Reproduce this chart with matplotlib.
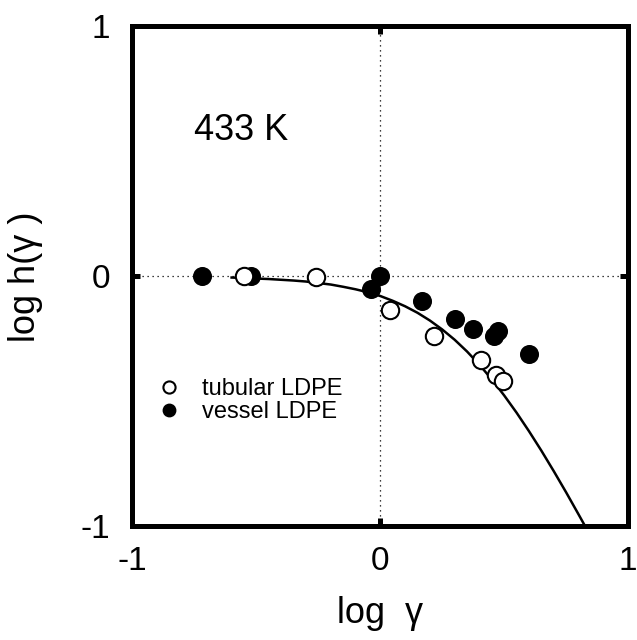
import matplotlib
matplotlib.use("Agg")
from matplotlib import pyplot as plt

plt.rcParams['font.family'] = ['Liberation Sans', 'DejaVu Sans']

# tubular LDPE (open circles)
tub_x = [-0.55, -0.26, 0.04, 0.215, 0.407, 0.468, 0.497]
tub_y = [0.0, -0.003, -0.136, -0.24, -0.336, -0.397, -0.42]

# vessel LDPE (filled circles)
ves_x = [-0.72, -0.52, -0.037, 0.0, 0.167, 0.30, 0.376, 0.46, 0.475, 0.60]
ves_y = [0.0, 0.0, -0.05, 0.0, -0.10, -0.17, -0.21, -0.24, -0.22, -0.31]

# fitted curve
fit_x = [-0.60, -0.55, -0.50, -0.45, -0.40, -0.35, -0.30, -0.25, -0.20, -0.15,
         -0.10, -0.05, 0.00, 0.05, 0.10, 0.15, 0.20, 0.25, 0.30, 0.35,
         0.40, 0.45, 0.50, 0.55, 0.60, 0.65, 0.70, 0.75, 0.80, 0.85]
fit_y = [-0.005, -0.007, -0.009, -0.011, -0.014, -0.017, -0.021, -0.027, -0.033, -0.042,
         -0.052, -0.064, -0.079, -0.098, -0.120, -0.146, -0.177, -0.213, -0.254, -0.301,
         -0.354, -0.413, -0.477, -0.546, -0.620, -0.698, -0.780, -0.865, -0.953, -1.042]

fig = plt.figure(figsize=(6.37, 6.40), dpi=100)
ax = fig.add_axes([0.208, 0.178, 0.778, 0.7806])

ax.axhline(0, color='black', lw=0.9, ls=(0, (1, 3)), zorder=1)
ax.axvline(0, color='black', lw=0.9, ls=(0, (1, 3)), zorder=1)

ax.plot(fit_x, fit_y, color='black', lw=1.8, zorder=2)
ax.plot(ves_x, ves_y, 'o', ms=12.5, mfc='black', mec='black', mew=1.2,
        label='vessel LDPE', zorder=3)
ax.plot(tub_x, tub_y, 'o', ms=12.5, mfc='white', mec='black', mew=1.5,
        label='tubular LDPE', zorder=4)

ax.set_xlim(-1, 1)
ax.set_ylim(-1, 1)
ax.set_xticks([-1, 0, 1])
ax.set_yticks([-1, 0, 1])
ax.set_xticklabels(['-1', '0', '1'])
ax.set_yticklabels(['-1', '0', '1'])
ax.tick_params(direction='in', length=6, width=3.6, labelsize=24,
               top=True, right=True)
ax.tick_params(axis='x', pad=14)
ax.tick_params(axis='y', pad=16)
for s in ax.spines.values():
    s.set_linewidth(3.6)

ax.set_xlabel('log  γ', fontsize=26)
ax.set_ylabel('log h(γ )', fontsize=26)
ax.xaxis.set_label_coords(0.5, -0.14)
ax.yaxis.set_label_coords(-0.18, 0.5)

ax.text(-0.75, 0.545, '433 K', fontsize=26)

handles, labels = ax.get_legend_handles_labels()
ax.legend(handles[::-1], labels[::-1], loc='upper left',
          bbox_to_anchor=(0.035, 0.315), frameon=False, fontsize=17,
          markerscale=0.7, handlelength=0.8, handletextpad=1.0,
          labelspacing=0.05, borderaxespad=0)

fig.savefig('out.png', dpi=100)
